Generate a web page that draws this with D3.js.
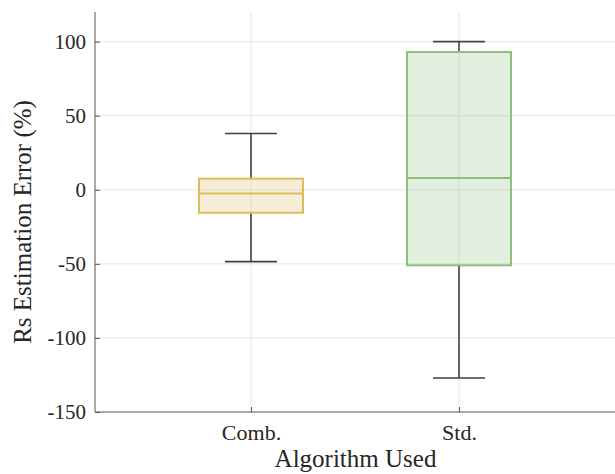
<!DOCTYPE html>
<html><head><meta charset="utf-8">
<script src="https://cdn.jsdelivr.net/npm/d3@7"></script>
<style>body{margin:0;background:#fff;} svg{display:block;}</style>
</head><body>
<svg id="c" width="615" height="474"></svg>
<script>
const categories = ["Comb.", "Std."];
const whiskerLow  = [-48.5, -127];
const q1          = [-15.5, -51];
const medians     = [-2.5, 8];
const q3          = [7.5, 93];
const whiskerHigh = [38, 100];
const yTicks = [-150, -100, -50, 0, 50, 100];
const colors = ["#dbbd5a", "#8fc07a"];

const svg = d3.select("#c");
const m = {l: 95, r: 0, t: 12, b: 62};
const W = 615, H = 474;
const x = d3.scalePoint().domain(categories).range([m.l, W - m.r]).padding(0.75);
const y = d3.scaleLinear().domain([-150, 120]).range([H - m.b, m.t]);
const font = "'Liberation Serif', 'DejaVu Serif', serif";
const axisColor = "#555";

// grid
const g = svg.append("g");
g.selectAll("line.hg").data(yTicks.filter(d => d > -150)).join("line")
  .attr("x1", m.l).attr("x2", W - m.r).attr("y1", d => y(d)).attr("y2", d => y(d))
  .attr("stroke", "#e6e6e6").attr("stroke-width", 1);
g.selectAll("line.vg").data(categories).join("line")
  .attr("x1", d => x(d)).attr("x2", d => x(d)).attr("y1", m.t).attr("y2", H - m.b)
  .attr("stroke", "#e6e6e6").attr("stroke-width", 1);

const data = categories.map((c, i) => ({c, lo: whiskerLow[i], q1: q1[i], med: medians[i], q3: q3[i], hi: whiskerHigh[i], col: colors[i]}));
const boxHalf = 52, capHalf = 26;

const b = svg.append("g").selectAll("g").data(data).join("g");
// whiskers
b.append("line").attr("x1", d => x(d.c)).attr("x2", d => x(d.c)).attr("y1", d => y(d.q3)).attr("y2", d => y(d.hi))
  .attr("stroke", "#404040").attr("stroke-width", 1.6);
b.append("line").attr("x1", d => x(d.c)).attr("x2", d => x(d.c)).attr("y1", d => y(d.q1)).attr("y2", d => y(d.lo))
  .attr("stroke", "#404040").attr("stroke-width", 1.6);
b.append("line").attr("x1", d => x(d.c) - capHalf).attr("x2", d => x(d.c) + capHalf).attr("y1", d => y(d.hi)).attr("y2", d => y(d.hi))
  .attr("stroke", "#404040").attr("stroke-width", 1.6);
b.append("line").attr("x1", d => x(d.c) - capHalf).attr("x2", d => x(d.c) + capHalf).attr("y1", d => y(d.lo)).attr("y2", d => y(d.lo))
  .attr("stroke", "#404040").attr("stroke-width", 1.6);
// boxes
b.append("rect").attr("x", d => x(d.c) - boxHalf).attr("width", 2 * boxHalf)
  .attr("y", d => y(d.q3)).attr("height", d => y(d.q1) - y(d.q3))
  .attr("fill", d => d.col).attr("fill-opacity", 0.25)
  .attr("stroke", d => d.col).attr("stroke-width", 2);
b.append("line").attr("x1", d => x(d.c) - boxHalf).attr("x2", d => x(d.c) + boxHalf)
  .attr("y1", d => y(d.med)).attr("y2", d => y(d.med))
  .attr("stroke", d => d.col).attr("stroke-width", 2);

// axes
const yAxis = d3.axisLeft(y).tickValues(yTicks).tickFormat(d => String(d)).tickSizeInner(-5).tickSizeOuter(0).tickPadding(9);
const ya = svg.append("g").attr("transform", `translate(${m.l},0)`).call(yAxis);
ya.select(".domain").attr("stroke", axisColor).attr("d", `M0,${m.t}V${H - m.b}`);
ya.selectAll(".tick line").attr("stroke", axisColor);
ya.selectAll(".tick text").attr("font-family", font).attr("font-size", 21).attr("fill", "#262626");

const xAxis = d3.axisBottom(x).tickSizeInner(-5).tickSizeOuter(0).tickPadding(12);
const xa = svg.append("g").attr("transform", `translate(0,${H - m.b})`).call(xAxis);
xa.select(".domain").attr("stroke", axisColor).attr("d", `M${m.l},0H${W}`);
xa.selectAll(".tick line").attr("stroke", axisColor);
xa.selectAll(".tick text").attr("font-family", font).attr("font-size", 22).attr("fill", "#262626");

svg.append("text").attr("x", (m.l + W) / 2 + 0.5).attr("y", 467)
  .attr("text-anchor", "middle").attr("font-family", font).attr("font-size", 25).attr("fill", "#262626")
  .text("Algorithm Used");
svg.append("text").attr("transform", `translate(31,222) rotate(-90)`)
  .attr("text-anchor", "middle").attr("font-family", font).attr("font-size", 25).attr("fill", "#262626")
  .text("Rs Estimation Error (%)");
</script>
</body></html>
